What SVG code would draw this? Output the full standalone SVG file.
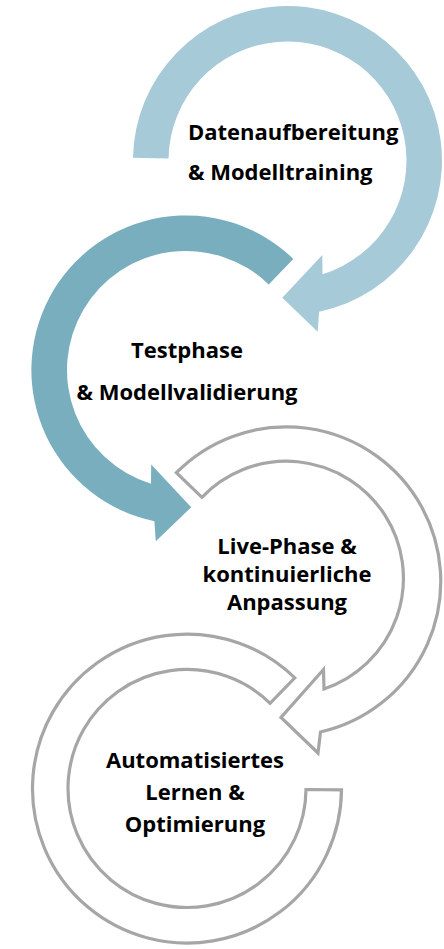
<svg xmlns="http://www.w3.org/2000/svg" width="444" height="949" viewBox="0 0 444 949">
<style>
.t{font-family:"Open Sans","Noto Sans","Liberation Sans",sans-serif;font-weight:700;font-size:22px;fill:#000}
.c{text-anchor:middle}
.g{fill:#fff;stroke:#A6A6A6;stroke-width:3.2;stroke-linejoin:miter}
</style>
<rect width="444" height="949" fill="#fff"/>
<g id="step1">
<path fill="#A6CAD8" d="M 133.0 157.8 A 154.5 154.5 0 1 1 319.1 311.7 L 317.7 331.7 L 282.3 297.7 L 322.3 255 L 322.5 274.2 A 119 119 0 1 0 168.5 158.4 Z"/>
<text class="t" x="188" y="140">Datenaufbereitung</text>
<text class="t" x="188" y="180">&amp; Modelltraining</text>
</g>
<g id="step2">
<path fill="#79AEBE" d="M 293.3 258.9 A 154.5 154.5 0 1 0 154.4 521.2 L 155.8 541.2 L 191.2 507.2 L 151.2 464.5 L 151 483.7 A 119 119 0 1 1 268.7 284.4 Z"/>
<text class="t c" x="187" y="358">Testphase</text>
<text class="t c" x="187" y="400">&amp; Modellvalidierung</text>
</g>
<g id="step3">
<path class="g" d="M 176.4 472.7 A 154.5 154.5 0 1 1 320.5 732 L 318 753 L 281 717.5 L 323.5 669.5 L 324 689 A 117 117 0 1 0 201.9 497.3 Z"/>
<text class="t c" x="287" y="554">Live-Phase &amp;</text>
<text class="t c" x="287" y="582">kontinuierliche</text>
<text class="t c" x="287" y="610">Anpassung</text>
</g>
<g id="step4">
<path class="g" d="M 294.8 677.9 A 154.5 154.5 0 1 0 341.5 789.85 L 306 789.5 A 119 119 0 1 1 270.1 703.3 Z"/>
<text class="t c" x="195" y="768">Automatisiertes</text>
<text class="t c" x="195" y="800">Lernen &amp;</text>
<text class="t c" x="195" y="832">Optimierung</text>
</g>
<g id="connectors"></g>
</svg>
